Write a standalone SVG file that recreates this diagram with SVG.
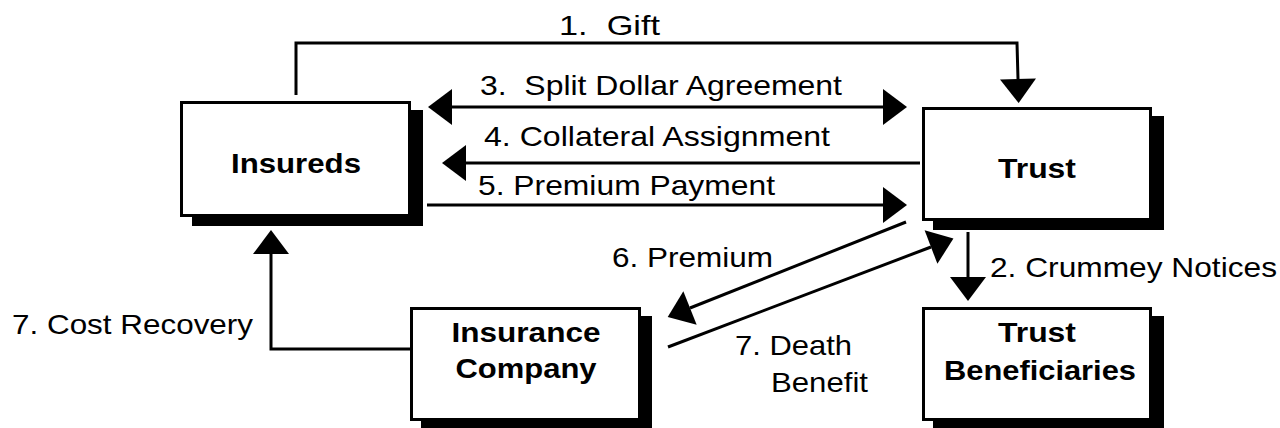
<svg xmlns="http://www.w3.org/2000/svg" width="1280" height="428" viewBox="0 0 1280 428">
  <style>
    .box { fill: #ffffff; stroke: #000000; stroke-width: 3; }
    .shadow { fill: #000000; stroke: none; }
    .node { font-family: "Liberation Sans", Arial, sans-serif; font-size: 28px; font-weight: bold; fill: #000000; text-anchor: middle; }
    .lbl { font-family: "Liberation Sans", Arial, sans-serif; font-size: 28px; fill: #000000; white-space: pre; }
    .wire { fill: none; stroke: #000000; stroke-width: 3; }
    .arrow { marker-end: url(#head); }
    .both { marker-start: url(#head); marker-end: url(#head); }
  </style>
  <defs>
    <!-- solid triangular arrowhead, base sits on the line end -->
    <marker id="head" markerUnits="userSpaceOnUse" markerWidth="24" markerHeight="36" viewBox="0 0 24 36" refX="0" refY="18" orient="auto-start-reverse" overflow="visible">
      <path d="M0,0 L24,18 L0,36 Z" fill="#000000"/>
    </marker>
  </defs>
  <rect width="1280" height="428" fill="#ffffff"/>

  <!-- connectors -->
  <g id="connectors">
    <polyline class="wire arrow" points="296,95 296,43 1017,43 1018,79"/>
    <line class="wire both" x1="452" y1="107" x2="883" y2="107"/>
    <line class="wire arrow" x1="920" y1="163" x2="466" y2="163"/>
    <line class="wire arrow" x1="427" y1="205" x2="883" y2="205"/>
    <line class="wire arrow" x1="968" y1="232" x2="968" y2="277"/>
    <line class="wire arrow" x1="906" y1="222" x2="690" y2="308"/>
    <line class="wire arrow" x1="668" y1="347" x2="931" y2="247"/>
    <polyline class="wire arrow" points="410,349 271,349 271,254"/>

    <text class="lbl" x="559" y="35" textLength="101" lengthAdjust="spacingAndGlyphs">1.  Gift</text>
    <text class="lbl" x="480" y="95" textLength="362" lengthAdjust="spacingAndGlyphs">3.  Split Dollar Agreement</text>
    <text class="lbl" x="484" y="146" textLength="346" lengthAdjust="spacingAndGlyphs">4. Collateral Assignment</text>
    <text class="lbl" x="478" y="195" textLength="297" lengthAdjust="spacingAndGlyphs">5. Premium Payment</text>
    <text class="lbl" x="612" y="267" textLength="161" lengthAdjust="spacingAndGlyphs">6. Premium</text>
    <text class="lbl" x="990" y="277" textLength="287" lengthAdjust="spacingAndGlyphs">2. Crummey Notices</text>
    <text class="lbl" x="735" y="355" textLength="117" lengthAdjust="spacingAndGlyphs">7. Death</text>
    <text class="lbl" x="771" y="392" textLength="97" lengthAdjust="spacingAndGlyphs">Benefit</text>
    <text class="lbl" x="12" y="334" textLength="241" lengthAdjust="spacingAndGlyphs">7. Cost Recovery</text>
  </g>

  <g id="insureds">
    <rect class="shadow" x="192" y="110" width="231" height="116"/>
    <rect class="box" x="181.5" y="102.5" width="228" height="113"/>
    <text class="node" x="296" y="173" textLength="130" lengthAdjust="spacingAndGlyphs">Insureds</text>
  </g>

  <g id="trust">
    <rect class="shadow" x="933" y="116" width="231" height="114"/>
    <rect class="box" x="923.5" y="108.5" width="227" height="111"/>
    <text class="node" x="1037" y="178" textLength="78" lengthAdjust="spacingAndGlyphs">Trust</text>
  </g>

  <g id="insurance-company">
    <rect class="shadow" x="421" y="316" width="231" height="114"/>
    <rect class="box" x="411.5" y="308.5" width="228" height="111"/>
    <text class="node" x="526" y="342" textLength="149" lengthAdjust="spacingAndGlyphs">Insurance</text>
    <text class="node" x="526" y="378" textLength="141" lengthAdjust="spacingAndGlyphs">Company</text>
  </g>

  <g id="trust-beneficiaries">
    <rect class="shadow" x="933" y="316" width="231" height="114"/>
    <rect class="box" x="923.5" y="308.5" width="227" height="111"/>
    <text class="node" x="1037" y="342" textLength="78" lengthAdjust="spacingAndGlyphs">Trust</text>
    <text class="node" x="1040" y="380" textLength="192" lengthAdjust="spacingAndGlyphs">Beneficiaries</text>
  </g>
</svg>
